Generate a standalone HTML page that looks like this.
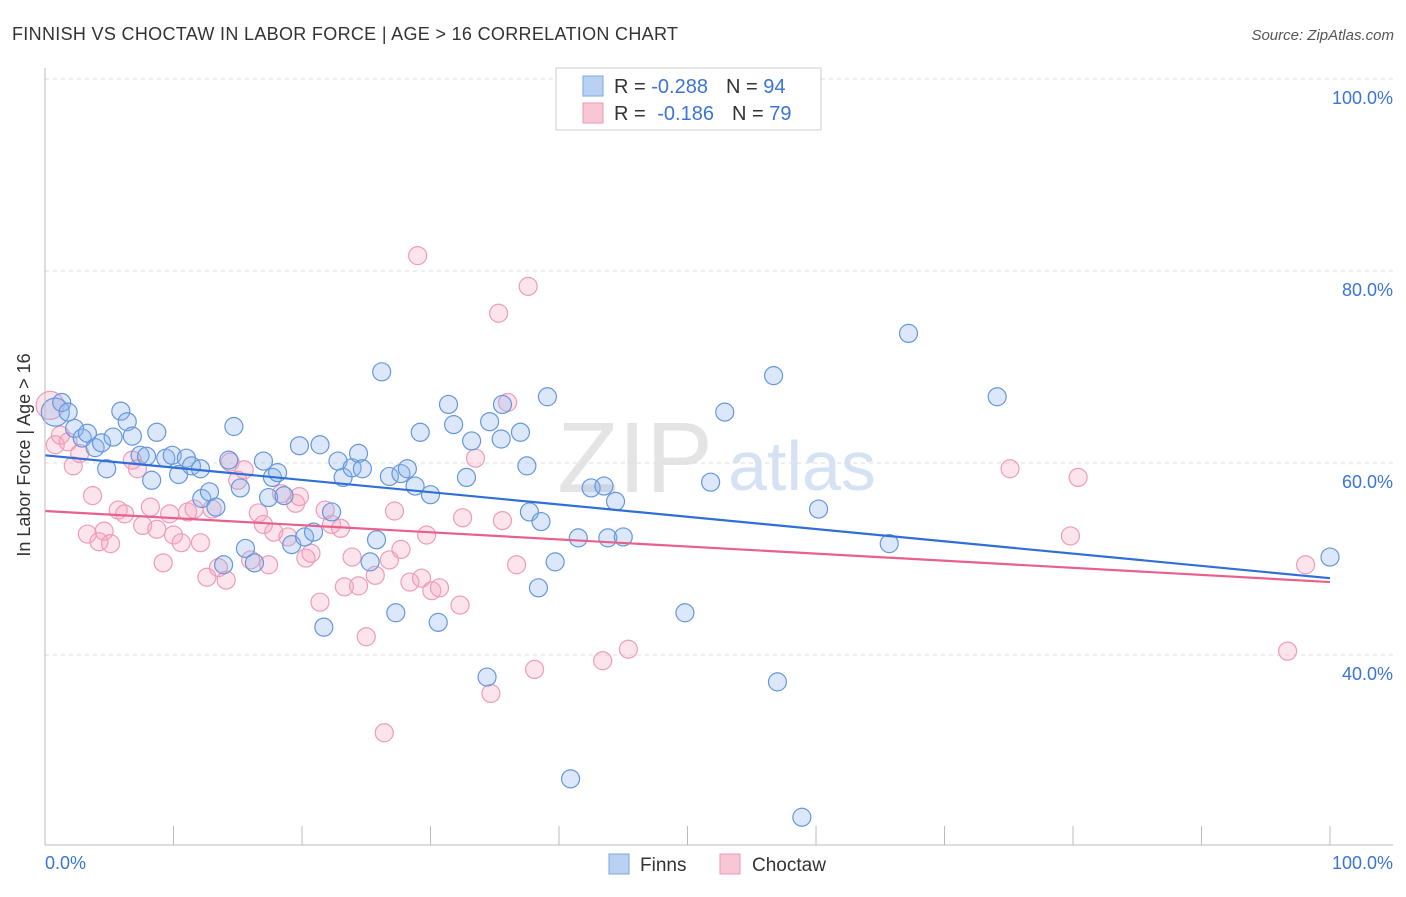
<!DOCTYPE html>
<html><head><meta charset="utf-8"><style>
body{margin:0;background:#fff;font-family:"Liberation Sans",sans-serif}
svg text{font-family:"Liberation Sans",sans-serif}
</style></head><body>
<svg id="c" width="1406" height="892">
<text x="12" y="40" font-size="18" fill="#333" textLength="666">FINNISH VS CHOCTAW IN LABOR FORCE | AGE &gt; 16 CORRELATION CHART</text>
<text x="1394" y="40" font-size="15" fill="#555" font-style="italic" text-anchor="end">Source: ZipAtlas.com</text>
<text x="635" y="492" font-size="100" fill="#e4e4e4" font-family="Liberation Serif" text-anchor="middle">ZIP</text>
<text x="802" y="490" font-size="70" fill="#d4e2f4" text-anchor="middle">atlas</text>
<g id="grid"></g><g id="pts"></g><g id="lines"></g>
<line x1="45" y1="68" x2="45" y2="845" stroke="#bbb"/>
<line x1="45" y1="845" x2="1393" y2="845" stroke="#bbb"/>
<text x="30" y="455" font-size="18" fill="#333" text-anchor="middle" transform="rotate(-90 30 455)">In Labor Force | Age &gt; 16</text>
<text x="45" y="869" font-size="18" fill="#3a74d6">0.0%</text>
<text x="1393" y="869" font-size="18" fill="#3a74d6" text-anchor="end">100.0%</text>
<g>
<rect x="556" y="68" width="265" height="62" fill="#fff" stroke="#ccc"/>
<rect x="583" y="76" width="20" height="20" fill="#b9d1f3" stroke="#7ea6e0"/>
<rect x="583" y="103" width="20" height="20" fill="#f9c6d6" stroke="#ec9ab5"/>
<text x="614" y="93" font-size="20" fill="#333">R = <tspan fill="#3a74d6">-0.288</tspan><tspan dx="18">N = </tspan><tspan fill="#3a74d6">94</tspan></text>
<text x="614" y="120" font-size="20" fill="#333">R = <tspan dx="6" fill="#3a74d6">-0.186</tspan><tspan dx="18">N = </tspan><tspan fill="#3a74d6">79</tspan></text>
</g>
<g><rect x="609" y="854" width="20" height="20" fill="#b9d1f3" stroke="#7ea6e0"/><text x="640" y="871" font-size="19" fill="#333">Finns</text></g>
<g><rect x="720" y="854" width="20" height="20" fill="#f9c6d6" stroke="#ec9ab5"/><text x="752" y="871" font-size="19" fill="#333">Choctaw</text></g>
</svg>
<script>
const yTicks=[40,60,80,100];
const xTicks=[0,10,20,30,40,50,60,70,80,90,100];
const finnsX=[0.8,1.3,1.8,2.3,2.9,3.3,3.9,4.4,4.8,5.3,5.9,6.4,6.8,7.4,7.9,8.3,8.7,9.4,9.9,10.4,11.0,11.4,12.1,12.2,12.8,13.3,13.9,14.3,14.7,15.2,15.6,16.3,17.0,17.4,17.7,18.1,18.6,19.2,19.8,20.2,20.9,21.4,21.7,22.3,22.8,23.2,23.9,24.4,24.7,25.3,25.8,26.2,26.8,27.3,27.7,28.2,28.8,29.2,30.0,30.6,31.4,31.8,32.8,33.2,34.4,34.6,35.5,35.6,37.0,37.5,37.7,38.4,38.6,39.1,39.7,40.9,41.5,42.5,43.5,43.8,44.4,45.0,49.8,51.8,52.9,56.7,57.0,58.9,60.2,65.7,67.2,74.1,100];
const finnsY=[65.3,66.3,65.3,63.6,62.6,63.1,61.6,62.1,59.4,62.7,65.4,64.3,62.8,60.8,60.7,58.2,63.2,60.5,60.8,58.8,60.5,59.7,59.4,56.3,57.0,55.4,49.4,60.3,63.8,57.4,51.1,49.6,60.2,56.4,58.5,59.0,56.6,51.5,61.8,52.3,52.8,61.9,42.9,54.9,60.2,58.5,59.5,61.0,59.4,49.7,52.0,69.5,58.6,44.4,58.9,59.4,57.6,63.2,56.7,43.4,66.1,64.0,58.5,62.3,37.7,64.3,62.5,66.1,63.2,59.7,54.9,47.0,53.9,66.9,49.7,27.1,52.2,57.4,57.6,52.2,56.0,52.3,44.4,58.0,65.3,69.1,37.2,23.1,55.2,51.6,73.5,66.9,50.2];
const choctawX=[0.4,0.8,1.2,1.8,2.2,2.7,3.3,3.7,4.2,4.6,5.1,5.7,6.2,6.8,7.2,7.6,8.2,8.7,9.2,9.7,10.0,10.6,11.1,11.6,12.1,12.6,13.0,13.5,14.1,14.4,15.0,15.5,16.0,16.6,17.0,17.4,17.8,18.4,18.9,19.5,19.8,20.3,20.7,21.4,21.8,22.3,23.0,23.3,23.9,24.4,25.0,25.7,26.4,26.8,27.2,27.7,28.4,29.0,29.3,29.7,30.1,30.7,32.3,32.5,33.5,34.7,35.3,35.6,36.0,36.7,37.6,38.1,43.4,45.4,75.1,79.8,80.4,96.7,98.1];
const choctawY=[66.0,61.9,62.9,62.2,59.7,61.0,52.6,56.6,51.8,52.9,51.6,55.1,54.7,60.3,59.4,53.5,55.4,53.1,49.6,54.7,52.5,51.7,54.9,55.2,51.7,48.1,55.2,49.1,47.8,60.1,58.2,59.3,49.9,54.8,53.6,49.4,52.8,56.8,52.3,55.8,56.5,50.1,50.6,45.5,55.1,53.6,53.2,47.1,50.2,47.2,41.9,48.3,31.9,49.9,55.0,51.0,47.6,81.6,48.0,52.5,46.7,47.0,45.2,54.3,60.5,36.0,75.6,54.0,66.3,49.4,78.4,38.5,39.4,40.6,59.4,52.4,58.5,40.4,49.4];
const finnsTrend=[60.8,48.0];
const choctawTrend=[55.0,47.6];
const NS='http://www.w3.org/2000/svg';
const X=v=>45+v*12.85, Y=v=>79+(100-v)*9.6;
function mk(t,a,p){const e=document.createElementNS(NS,t);for(const k in a)e.setAttribute(k,a[k]);p.appendChild(e);return e;}
const g=document.getElementById('grid');
yTicks.forEach(t=>{
 const l=mk('line',{x1:45,x2:1393,y1:Y(t),y2:Y(t),stroke:'#ddd','stroke-dasharray':'4,4'},g);
 
 
 const tx=mk('text',{x:1393,y:Y(t)+25,'font-size':18,fill:'#3a74d6','text-anchor':'end'},g);
 tx.textContent=t.toFixed(1)+'%';
 
 
});
xTicks.forEach(t=>{
 const l=mk('line',{x1:X(t),x2:X(t),y1:826,y2:845,stroke:'#bbb'},g);
 
 
});
const p=document.getElementById('pts');
function pts(xs,ys,fill,stroke,name){
 xs.forEach((x,i)=>{
  const c=mk('circle',{cx:X(x),cy:Y(ys[i]),r:i===0?14:9,fill:fill,stroke:stroke,'stroke-width':1.2},p);
  
  
 });
}
pts(choctawX,choctawY,'rgba(245,165,192,0.3)','#ee9cb7','choctaw-point');
pts(finnsX,finnsY,'rgba(140,180,235,0.3)','#6597dc','finns-point');
const lg=document.getElementById('lines');
const l1=mk('line',{x1:X(0),y1:Y(finnsTrend[0]),x2:X(100),y2:Y(finnsTrend[1]),stroke:'#2f6fd6','stroke-width':2.2},lg);


const l2=mk('line',{x1:X(0),y1:Y(choctawTrend[0]),x2:X(100),y2:Y(choctawTrend[1]),stroke:'#e8608c','stroke-width':2.2},lg);


</script>
</body></html>
